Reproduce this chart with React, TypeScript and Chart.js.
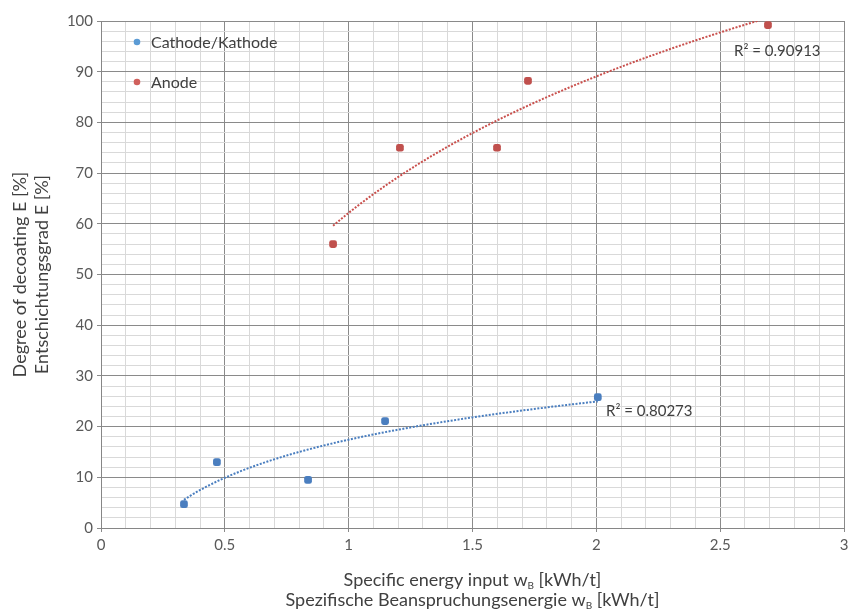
import React, { useEffect, useRef } from "react";
import { Chart, registerables } from "chart.js";

Chart.register(...registerables);

// ---- Data ----
const seriesNames = ["Cathode/Kathode", "Anode"];
const cathodeX = [0.335, 0.468, 0.836, 1.147, 2.006];
const cathodeY = [4.7, 13.0, 9.5, 21.1, 25.8];
const anodeX = [0.937, 1.207, 1.599, 1.724, 2.693];
const anodeY = [56.0, 75.0, 75.0, 88.2, 99.2];
const rSquaredLabels = ["R\u00B2 = 0.80273", "R\u00B2 = 0.90913"];

const xTickValues = [0, 0.5, 1, 1.5, 2, 2.5, 3];
const xTickLabels = ["0", "0.5", "1", "1.5", "2", "2.5", "3"];
const yTickValues = [0, 10, 20, 30, 40, 50, 60, 70, 80, 90, 100];
const yTickLabels = ["0", "10", "20", "30", "40", "50", "60", "70", "80", "90", "100"];

const yTitleLines = ["Degree of decoating E [%]", "Entschichtungsgrad E [%]"];
const xTitleLines: [string, string, string][] = [
  ["Specific energy input w", "B", " [kWh/t]"],
  ["Spezifische Beanspruchungsenergie w", "B", " [kWh/t]"],
];

// ---- Styles ----
const FONT = "Lato, 'Open Sans', sans-serif";
const blue = "#4a7ebf";
const red = "#c0504d";
const legendBlue = "#5b9bd5";
const legendRed = "#d0605c";
const majorGrid = "#8a8a8a";
const minorGrid = "#d9d9d9";

// log trendline fit (least squares on ln x)
function logFit(xs: number[], ys: number[]) {
  const lx = xs.map((v) => Math.log(v));
  const n = xs.length;
  const mx = lx.reduce((s, v) => s + v, 0) / n;
  const my = ys.reduce((s, v) => s + v, 0) / n;
  let sxy = 0;
  let sxx = 0;
  for (let i = 0; i < n; i++) {
    sxy += (lx[i] - mx) * (ys[i] - my);
    sxx += (lx[i] - mx) * (lx[i] - mx);
  }
  const a = sxy / sxx;
  return { a, b: my - a * mx };
}

function trendPoints(xs: number[], ys: number[]) {
  const { a, b } = logFit(xs, ys);
  const lo = Math.min(...xs);
  const hi = Math.max(...xs);
  const pts: { x: number; y: number }[] = [];
  const steps = 120;
  for (let i = 0; i <= steps; i++) {
    const x = lo + ((hi - lo) * i) / steps;
    pts.push({ x, y: a * Math.log(x) + b });
  }
  return pts;
}

const matchIdx = (vals: number[], v: number) => vals.findIndex((t) => Math.abs(t - v) < 1e-6);

const overlayPlugin = {
  id: "overlay",
  afterDatasetsDraw(chart: any) {
    const ctx = chart.ctx as CanvasRenderingContext2D;
    const { left, top } = chart.chartArea;
    const xs = chart.scales.x;
    const ys = chart.scales.y;
    ctx.save();
    // legend
    const legendItems = [
      { name: seriesNames[0], color: legendBlue, dy: 21 },
      { name: seriesNames[1], color: legendRed, dy: 61 },
    ];
    ctx.font = `16px ${FONT}`;
    ctx.textBaseline = "middle";
    ctx.textAlign = "left";
    legendItems.forEach((it) => {
      ctx.fillStyle = it.color;
      ctx.beginPath();
      ctx.arc(left + 36, top + it.dy, 3.3, 0, Math.PI * 2);
      ctx.fill();
      ctx.fillStyle = "#404040";
      ctx.fillText(it.name, left + 50, top + it.dy + 1);
    });
    // R² labels
    ctx.fillStyle = "#404040";
    ctx.font = `15px ${FONT}`;
    ctx.fillText(rSquaredLabels[0], xs.getPixelForValue(2.039), ys.getPixelForValue(23.1));
    ctx.fillText(rSquaredLabels[1], xs.getPixelForValue(2.556), ys.getPixelForValue(94.1));
    ctx.restore();
  },
  afterDraw(chart: any) {
    const ctx = chart.ctx as CanvasRenderingContext2D;
    const { left, top, right, bottom } = chart.chartArea;
    ctx.save();
    ctx.fillStyle = "#404040";
    // y title
    const cy = (top + bottom) / 2;
    ctx.font = `18px ${FONT}`;
    ctx.textAlign = "center";
    ctx.textBaseline = "middle";
    [20, 42].forEach((x, i) => {
      ctx.save();
      ctx.translate(x, cy);
      ctx.rotate(-Math.PI / 2);
      ctx.fillText(yTitleLines[i], 0, 0);
      ctx.restore();
    });
    // x title with subscript
    const cx = (left + right) / 2;
    const baseFont = `18px ${FONT}`;
    const subFont = `10px ${FONT}`;
    [586, 606].forEach((by, i) => {
      const [p1, sub, p2] = xTitleLines[i];
      ctx.font = baseFont;
      const w1 = ctx.measureText(p1).width;
      const w3 = ctx.measureText(p2).width;
      ctx.font = subFont;
      const w2 = ctx.measureText(sub).width;
      let x = cx - (w1 + w2 + w3) / 2;
      ctx.textAlign = "left";
      ctx.textBaseline = "alphabetic";
      ctx.font = baseFont;
      ctx.fillText(p1, x, by);
      x += w1;
      ctx.font = subFont;
      ctx.fillText(sub, x, by + 3);
      x += w2;
      ctx.font = baseFont;
      ctx.fillText(p2, x, by);
    });
    ctx.restore();
  },
};

export default function App() {
  const ref = useRef<HTMLCanvasElement | null>(null);
  useEffect(() => {
    if (!ref.current) return;
    const chart = new Chart(ref.current, {
      type: "scatter",
      data: {
        datasets: [
          {
            label: seriesNames[0],
            data: cathodeX.map((x, i) => ({ x, y: cathodeY[i] })),
            backgroundColor: blue,
            borderColor: blue,
            pointStyle: "rectRounded",
            pointRadius: 4.5,
            borderWidth: 0,
          },
          {
            label: seriesNames[1],
            data: anodeX.map((x, i) => ({ x, y: anodeY[i] })),
            backgroundColor: red,
            borderColor: red,
            pointStyle: "rectRounded",
            pointRadius: 4.5,
            borderWidth: 0,
          },
          {
            label: "trend-cathode",
            data: trendPoints(cathodeX, cathodeY),
            showLine: true,
            pointRadius: 0,
            borderColor: blue,
            borderWidth: 2,
            borderDash: [2, 1.5],
            fill: false,
          } as any,
          {
            label: "trend-anode",
            data: trendPoints(anodeX, anodeY),
            showLine: true,
            pointRadius: 0,
            borderColor: "#c9504d",
            borderWidth: 2,
            borderDash: [2, 1.5],
            fill: false,
          } as any,
        ],
      },
      options: {
        responsive: false,
        animation: false,
        layout: { padding: { left: 0, top: 21, right: 21, bottom: 0 } },
        plugins: { legend: { display: false }, tooltip: { enabled: false } },
        scales: {
          x: {
            type: "linear",
            min: 0,
            max: 3,
            afterFit: (s: any) => {
              s.height = 82;
            },
            ticks: {
              stepSize: 0.1,
              autoSkip: false,
              maxRotation: 0,
              padding: 4,
              color: "#595959",
              font: { family: FONT, size: 15 },
              callback: (v: any) => {
                const i = matchIdx(xTickValues, Number(v));
                return i >= 0 ? xTickLabels[i] : "";
              },
            },
            grid: {
              color: (c: any) => (matchIdx(xTickValues, c.tick?.value) >= 0 ? majorGrid : minorGrid),
              tickColor: (c: any) => (matchIdx(xTickValues, c.tick?.value) >= 0 ? majorGrid : "rgba(0,0,0,0)"),
              tickLength: 4,
              lineWidth: 1,
            },
            border: { display: true, color: "#868686" },
          },
          y: {
            type: "linear",
            min: 0,
            max: 100,
            afterFit: (s: any) => {
              s.width = 101;
            },
            ticks: {
              stepSize: 2,
              autoSkip: false,
              padding: 4,
              color: "#595959",
              font: { family: FONT, size: 15 },
              callback: (v: any) => {
                const i = matchIdx(yTickValues, Number(v));
                return i >= 0 ? yTickLabels[i] : "";
              },
            },
            grid: {
              color: (c: any) => (matchIdx(yTickValues, c.tick?.value) >= 0 ? majorGrid : minorGrid),
              tickColor: (c: any) => (matchIdx(yTickValues, c.tick?.value) >= 0 ? majorGrid : "rgba(0,0,0,0)"),
              tickLength: 4,
              lineWidth: 1,
            },
            border: { display: true, color: "#868686" },
          },
        },
      } as any,
      plugins: [overlayPlugin],
    });
    return () => chart.destroy();
  }, []);
  return (
    <canvas
      ref={ref}
      width={865}
      height={610}
      style={{ position: "fixed", left: 0, top: 0, width: 865, height: 610, display: "block", background: "#fff" }}
    />
  );
}
